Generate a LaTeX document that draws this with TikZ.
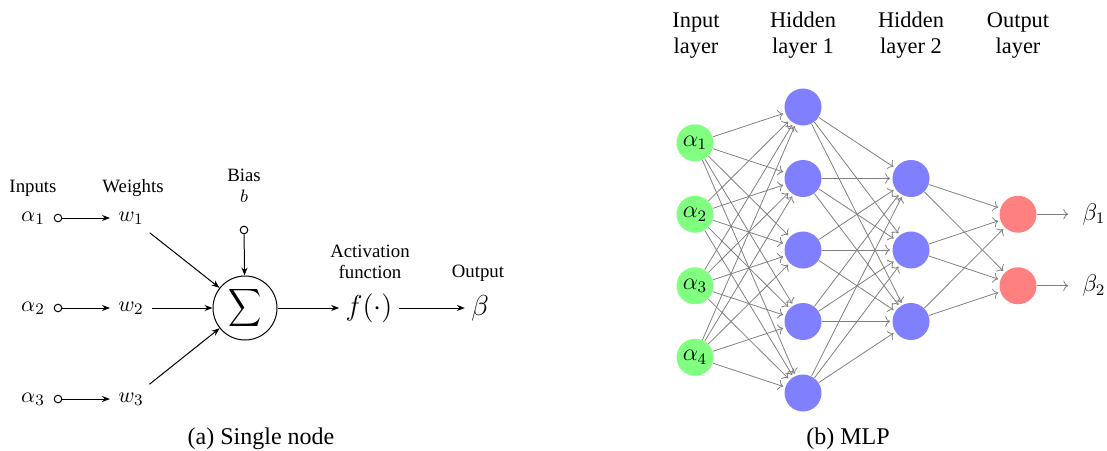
\documentclass[tikz,border=0pt]{standalone}
\usepackage{fontspec}
\setmainfont{Liberation Serif}
\usepackage{graphicx}
\usetikzlibrary{arrows.meta}
\tikzset{
  lbl/.style={font=\rmfamily\fontsize{9.4}{11}\selectfont, inner sep=0pt, anchor=base},
  layerlbl/.style={font=\rmfamily\fontsize{11.2}{13}\selectfont, inner sep=0pt, anchor=base},
  captxt/.style={font=\rmfamily\fontsize{12}{14}\selectfont, inner sep=0pt, anchor=base},
  mth/.style={font=\fontsize{10.95}{12}\selectfont, inner sep=4pt},
  bigmth/.style={font=\fontsize{14.4}{16}\selectfont, inner sep=3pt},
  sdot/.style={circle, draw, line width=0.5pt, minimum size=3.8pt, inner sep=0pt},
  arr/.style={-{Stealth[length=4pt,width=3pt]}, line width=0.5pt},
  sumnode/.style={circle, draw, line width=0.5pt, minimum size=32pt, inner sep=0pt},
  neuron/.style={circle, minimum size=18.5pt, inner sep=0pt, font=\fontsize{12}{14}\selectfont},
  inn/.style={neuron, fill=green!50},
  hid/.style={neuron, fill=blue!50},
  outn/.style={neuron, fill=red!50},
  edge/.style={draw=black!50, line width=0.4pt, ->, shorten >=1pt},
  outlbl/.style={font=\fontsize{12}{14}\selectfont, inner sep=4pt},
}
\begin{document}
\begin{tikzpicture}[x=0.5pt,y=-0.5pt]
\useasboundingbox (0,0) rectangle (1107,450);

% ---------- (a) Single node ----------
\node[lbl] (tin) at (33,192) {Inputs};
\node[lbl] (twt) at (133,192) {Weights};
\node[lbl] (tbias) at (244,181) {Bias};
\node[lbl] (tb) at (244,202) {$b$};
\node[lbl] (tact1) at (370,257) {Activation};
\node[lbl] (tact2) at (370,278) {function};
\node[lbl] (tout) at (478,277) {Output};

\node[mth] (a1) at (33,218) {$\alpha_1$};
\node[mth] (a2) at (33,308) {$\alpha_2$};
\node[mth] (a3) at (33,399) {$\alpha_3$};
\node[sdot] (d1) at (58,218) {};
\node[sdot] (d2) at (58,308) {};
\node[sdot] (d3) at (58,399) {};
\node[mth] (w1) at (131,218) {$w_1$};
\node[mth] (w2) at (131,308) {$w_2$};
\node[mth] (w3) at (131,399) {$w_3$};
\node[sumnode] (sum) at (245,308) {\fontsize{10}{12}\selectfont\scalebox{1.15}[1.32]{$\displaystyle\sum$}};
\node[sdot] (bd) at (244,230) {};
\node[bigmth] (f) at (369,308) {$f(\cdot)$};
\node[bigmth] (beta) at (480,308) {$\beta$};

\draw[arr] (d1) -- (w1);
\draw[arr] (d2) -- (w2);
\draw[arr] (d3) -- (w3);
\draw[arr] (w1) -- (sum);
\draw[arr] (w2) -- (sum);
\draw[arr] (w3) -- (sum);
\draw[arr] (bd) -- (sum);
\draw[arr] (sum) -- (f);
\draw[arr] (f) -- (beta);

\node[captxt] (capa) at (261,444) {(a) Single node};

% ---------- (b) MLP ----------
\node[layerlbl] (l1a) at (696,27) {Input};
\node[layerlbl] (l1b) at (696,53) {layer};
\node[layerlbl] (l2a) at (803,27) {Hidden};
\node[layerlbl] (l2b) at (803,53) {layer 1};
\node[layerlbl] (l3a) at (911,27) {Hidden};
\node[layerlbl] (l3b) at (911,53) {layer 2};
\node[layerlbl] (l4a) at (1018,27) {Output};
\node[layerlbl] (l4b) at (1018,53) {layer};

\foreach \i/\y in {1/142.75,2/214.25,3/285.75,4/357.25}
  \node[inn] (I\i) at (695,\y) {$\alpha_{\i}$};
\foreach \i/\y in {1/107,2/178.5,3/250,4/321.5,5/393}
  \node[hid] (H\i) at (803,\y) {};
\foreach \i/\y in {1/178.5,2/250,3/321.5}
  \node[hid] (G\i) at (911,\y) {};
\foreach \i/\y in {1/214.25,2/285.75}
  \node[outn] (O\i) at (1018,\y) {};
\foreach \i/\y in {1/214.25,2/285.75}
  \node[outlbl] (B\i) at (1094,\y) {$\beta_{\i}$};

\foreach \i in {1,...,4}
  \foreach \j in {1,...,5}
    \draw[edge] (I\i) -- (H\j);
\foreach \i in {1,...,5}
  \foreach \j in {1,...,3}
    \draw[edge] (H\i) -- (G\j);
\foreach \i in {1,...,3}
  \foreach \j in {1,2}
    \draw[edge] (G\i) -- (O\j);
\foreach \i in {1,2}
  \draw[edge, shorten >=3pt] (O\i) -- (B\i);

\node[captxt] (capb) at (848,444) {(b) MLP};
\end{tikzpicture}
\end{document}
